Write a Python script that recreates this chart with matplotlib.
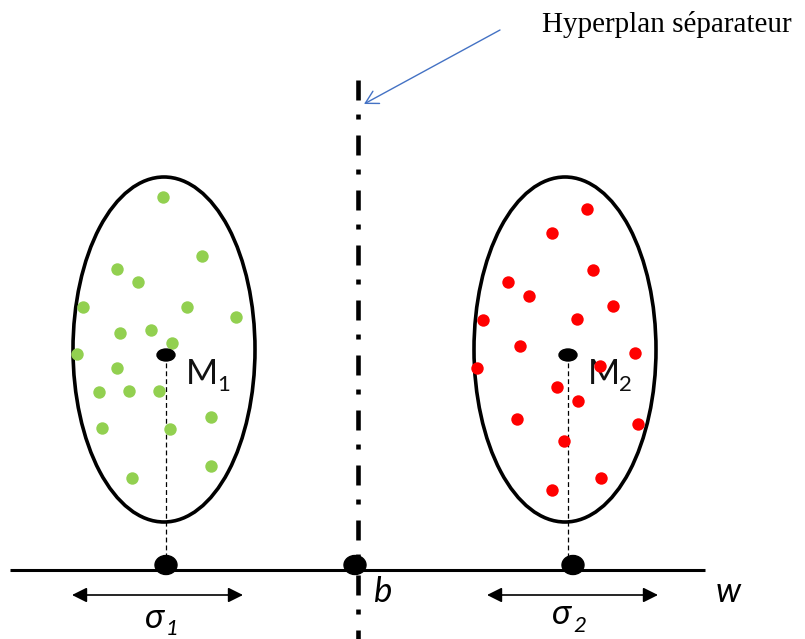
import matplotlib
matplotlib.use("Agg")
import matplotlib.pyplot as plt
from matplotlib.patches import Ellipse, FancyArrowPatch
import numpy as np

plt.rcParams['lines.scale_dashes'] = False

# ---- data (pixel-space coordinates of the diagram) ----
green_x = [162.7, 202.3, 116.7, 138.0, 82.7, 187.3, 236.0, 120.0, 150.7, 172.0,
           77.3, 116.7, 99.0, 129.0, 158.7, 211.3, 101.7, 170.0, 211.3, 132.3]
green_y = [196.7, 256.0, 268.7, 282.3, 306.7, 306.7, 317.0, 332.7, 329.7, 343.3,
           354.3, 368.0, 392.3, 390.7, 390.7, 416.7, 427.7, 429.0, 465.7, 478.0]
red_x = [587.3, 552.3, 593.0, 508.0, 529.3, 613.3, 482.7, 576.7, 520.0, 635.3,
         477.3, 600.0, 556.7, 578.0, 516.7, 638.0, 564.3, 601.3, 552.3]
red_y = [208.7, 233.0, 269.7, 282.0, 295.7, 306.3, 320.0, 318.7, 346.0, 353.3,
         367.7, 365.7, 387.0, 400.7, 419.3, 423.7, 441.0, 477.7, 490.0]

class_centers_x = [163, 564]
mean_x = [166, 568]
axis_points_x = [166, 355, 573]
labels_mean = ["1", "2"]
title_text = "Hyperplan séparateur"

W, H = 805, 639
fig = plt.figure(figsize=(W / 100, H / 100), dpi=100)
ax = fig.add_axes([0, 0, 1, 1])
ax.set_xlim(0, W)
ax.set_ylim(H, 0)
ax.axis('off')

# class ellipses
for cx in class_centers_x:
    ax.add_patch(Ellipse((cx + 1, 349.5), 182, 345, fill=False, lw=2.6,
                         edgecolor='black', zorder=2))

# points
ax.scatter(green_x, green_y, s=80, color='#92D050', linewidths=0, zorder=3)
ax.scatter(red_x, red_y, s=80, color='#FF0000', linewidths=0, zorder=3)

# means + dashed projections
for mx, lab in zip(mean_x, labels_mean):
    ax.add_patch(Ellipse((mx, 355), 18, 12, color='black', zorder=4))
    ax.plot([mx, mx], [355, 565], color='black', lw=0.9, ls=(0, (3.5, 2.2)), zorder=1)
    ax.text(mx + 20, 384, "M", fontsize=25, family=['Lato', 'DejaVu Sans'],
            ha='left', va='baseline', color='#111111', zorder=2.5)
    ax.text(mx + 51, 391, lab, fontsize=16, family=['Lato', 'DejaVu Sans'],
            ha='left', va='baseline', color='#111111', zorder=2.5)

# projection axis w
ax.plot([10, 705], [570, 570], color='black', lw=2.2, solid_capstyle='butt', zorder=2)
for px in axis_points_x:
    ax.add_patch(Ellipse((px, 565), 22, 19, color='black', zorder=4))

# separating hyperplane
ln, = ax.plot([358, 358], [80, 639], color='black', lw=3.3, zorder=3,
              solid_capstyle='butt')
ln.set_dashes([14.4, 10.1, 3.6, 11.5])
ln.set_dash_capstyle('butt')

# annotation arrow
ax.add_patch(FancyArrowPatch((500, 30), (364, 104), arrowstyle='->,head_length=9,head_width=5',
                             color='#4472C4', lw=1.0, mutation_scale=1, zorder=5,
                             shrinkA=0, shrinkB=0))
ax.text(542, 32, title_text, fontsize=21, family='Liberation Serif',
        ha='left', va='baseline', color='black')

# sigma arrows
for x0, x1 in [(72, 243), (487, 658)]:
    ax.add_patch(FancyArrowPatch((x0, 595), (x1, 595),
                                 arrowstyle='<|-|>,head_length=9,head_width=4.5',
                                 color='black', lw=1.2, mutation_scale=1, zorder=5,
                                 shrinkA=0, shrinkB=0))

it = dict(family=['Lato', 'DejaVu Sans'], style='italic', color='black',
          ha='left', va='baseline')
ax.text(145, 628, "σ", fontsize=25, **it)
ax.text(166, 635, "1", fontsize=16, **it)
ax.text(552, 624, "σ", fontsize=25, **it)
ax.text(573, 632, "2", fontsize=16, **it)
ax.text(374, 602, "b", fontsize=25, **it)
ax.text(716, 602, "w", fontsize=25, **it)

fig.savefig("out.png", dpi=100)
